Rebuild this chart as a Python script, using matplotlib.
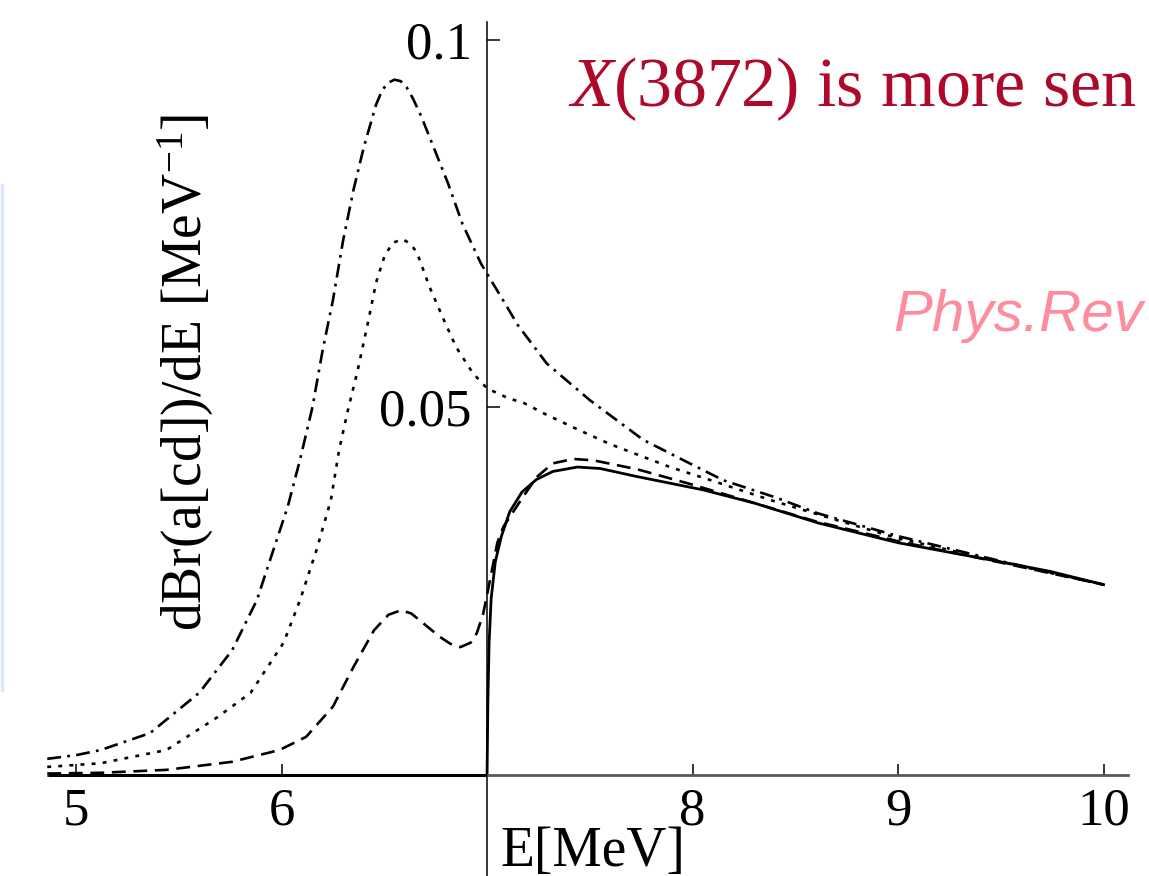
import matplotlib
matplotlib.use("Agg")
import matplotlib.pyplot as plt
from matplotlib.lines import Line2D

# ---------------- data ----------------
E_dashdot = [4.86, 5.0, 5.12, 5.36, 5.60, 5.76, 5.88, 5.96, 6.03, 6.09, 6.15, 6.20, 6.25,
             6.30, 6.35, 6.40, 6.46, 6.49, 6.52, 6.55, 6.58, 6.61, 6.64, 6.68, 6.72, 6.81,
             6.88, 6.97, 7.00, 7.08, 7.15, 7.29, 7.50, 7.76, 8.00, 8.15, 8.40, 8.61, 9.00,
             9.50, 10.00]
Y_dashdot = [0.0022, 0.0027, 0.0034, 0.0057, 0.0112, 0.0170, 0.0238, 0.0306, 0.0365, 0.0429,
             0.0500, 0.0578, 0.0646, 0.0728, 0.0796, 0.0854, 0.0912, 0.0932, 0.0942, 0.0946,
             0.0944, 0.0935, 0.0920, 0.0896, 0.0868, 0.0805, 0.0750, 0.0696, 0.0682, 0.0645,
             0.0612, 0.0560, 0.0510, 0.0456, 0.0422, 0.0401, 0.0378, 0.0356, 0.0325, 0.0291,
             0.0259]

E_dotted = [4.86, 5.12, 5.44, 5.69, 5.85, 6.01, 6.09, 6.17, 6.24, 6.28, 6.32, 6.37, 6.42,
            6.46, 6.50, 6.54, 6.59, 6.63, 6.66, 6.72, 6.79, 6.85, 6.93, 7.00, 7.10, 7.18,
            7.29, 7.45, 7.60, 7.89, 8.10, 8.38, 8.70, 9.00, 9.50, 10.00]
Y_dotted = [0.0011, 0.0016, 0.0034, 0.0079, 0.0112, 0.0180, 0.0238, 0.0306, 0.0374, 0.0442,
            0.0493, 0.0550, 0.0615, 0.0670, 0.0705, 0.0724, 0.0729, 0.0722, 0.0710, 0.0664,
            0.0619, 0.0582, 0.0547, 0.0526, 0.0513, 0.0506, 0.0490, 0.0469, 0.0450, 0.0419,
            0.0400, 0.0374, 0.0347, 0.0322, 0.0290, 0.0259]

E_dashed = [4.86, 5.12, 5.44, 5.76, 5.99, 6.12, 6.25, 6.35, 6.45, 6.52, 6.58, 6.63, 6.67,
            6.77, 6.83, 6.87, 6.92, 6.95, 6.98, 7.00, 7.05, 7.08, 7.16, 7.24, 7.32, 7.42,
            7.52, 7.73, 8.00, 8.30, 8.60, 9.00, 9.50, 10.00]
Y_dashed = [0.0002, 0.0003, 0.0007, 0.0018, 0.0034, 0.0052, 0.0093, 0.0147, 0.0197, 0.0218,
            0.0224, 0.0220, 0.0211, 0.0188, 0.0177, 0.0174, 0.0180, 0.0193, 0.0218, 0.0245,
            0.0316, 0.0338, 0.0372, 0.0405, 0.0424, 0.0430, 0.0428, 0.0416, 0.0395, 0.0370,
            0.0345, 0.0318, 0.0289, 0.0259]

E_solid = [7.00, 7.004, 7.01, 7.02, 7.04, 7.07, 7.11, 7.17, 7.24, 7.32, 7.44, 7.55, 7.73,
           8.05, 8.30, 8.61, 9.00, 9.25, 9.50, 9.74, 10.00]
Y_solid = [0.0, 0.010, 0.018, 0.024, 0.029, 0.0325, 0.0358, 0.0385, 0.0402, 0.0413, 0.0419,
           0.0417, 0.0406, 0.0388, 0.0370, 0.0343, 0.0316, 0.0303, 0.0290, 0.0277, 0.0259]

x_ticks = [5, 6, 8, 9, 10]
x_ticklabels = ["5", "6", "8", "9", "10"]
y_ticks = [0.05, 0.1]
y_ticklabels = ["0.05", "0.1"]

title_text = "$X$(3872) is more sen"
ref_text = "Phys.Rev"
ylabel_text = "dBr(a[cd])/dE [MeV$^{-1}$]"
xlabel_text = "E[MeV]"

# ---------------- style ----------------
plt.rcParams["lines.scale_dashes"] = False
plt.rcParams["font.family"] = ["Liberation Serif", "DejaVu Serif"]
plt.rcParams["mathtext.fontset"] = "custom"
plt.rcParams["mathtext.rm"] = "Liberation Serif"
plt.rcParams["mathtext.it"] = "Liberation Serif:italic"

W, H = 1149, 876
fig = plt.figure(figsize=(W / 100, H / 100), dpi=100)
ax = fig.add_axes([0, 0, 1, 1])
ax.patch.set_alpha(0)

ax.set_xlim(4.630, 10.221)
ax.set_ylim(-0.01374, 0.10544)

ax.plot(E_dashdot, Y_dashdot, color="black", lw=1.9, dashes=(10.0, 4.5, 2.0, 4.5),
        solid_joinstyle="round")
ax.plot(E_dotted, Y_dotted, color="black", lw=1.9, dashes=(2.8, 5.2),
        solid_joinstyle="round")
ax.plot(E_dashed, Y_dashed, color="black", lw=1.9, dashes=(10.0, 5.5),
        solid_joinstyle="round")
ax.plot(E_solid, Y_solid, color="black", lw=2.0, solid_joinstyle="round")

# axes through origin (7, 0)
for s in ("top", "right"):
    ax.spines[s].set_visible(False)
ax.spines["left"].set_position(("data", 7))
ax.spines["bottom"].set_position(("data", 0))
ax.spines["left"].set_bounds(-0.0137, 0.1024)
ax.spines["bottom"].set_bounds(4.864, 10.12)
ax.spines["left"].set_linewidth(1.1)
ax.spines["bottom"].set_linewidth(2.0)
ax.spines["bottom"].set_color("#5a5a5a")
ax.hlines(0, 4.864, 7, color="black", lw=2.2, zorder=3)

ax.set_xticks(x_ticks)
ax.set_xticklabels(x_ticklabels)
ax.set_yticks(y_ticks)
ax.set_yticklabels(y_ticklabels)
ax.tick_params(axis="x", direction="in", length=8, width=1.1, pad=9, labelsize=38)
ax.tick_params(axis="y", direction="in", length=9, width=1.1, pad=11, labelsize=38)

fig.text(186 / W, 1 - 372 / H, ylabel_text, rotation=90, ha="center", va="center",
         fontsize=40)
fig.text(593 / W, 1 - 866 / H, xlabel_text, ha="center", va="baseline", fontsize=40)

fig.text(568 / W, 1 - 106 / H, title_text, ha="left", va="baseline", fontsize=50.5,
         color="#ad0a2b")
fig.text(893 / W, 1 - 331 / H, ref_text, ha="left", va="baseline", fontsize=42,
         color="#ff8c9c", style="italic", family=["Liberation Sans", "DejaVu Sans"])

# faint blue edge on the left
fig.add_artist(Line2D([0.0015, 0.0015], [1 - 690 / H, 1 - 185 / H],
                      transform=fig.transFigure, color="#dce6fb", lw=2.5))

fig.savefig("out.png", dpi=100, facecolor="white")
